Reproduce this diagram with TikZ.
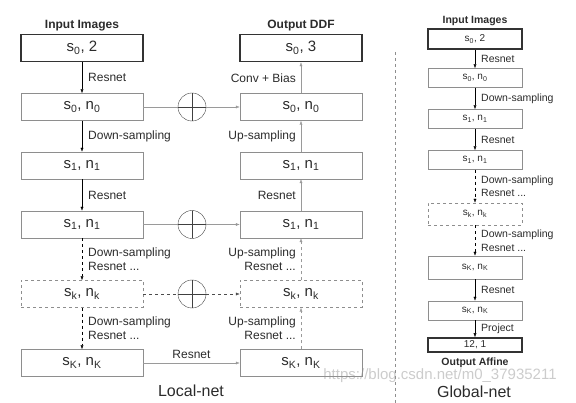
\documentclass[tikz,border=0pt]{standalone}
\usepackage{fontspec}
\setmainfont{Liberation Sans}
\usetikzlibrary{arrows.meta,positioning}
\definecolor{boxgray}{HTML}{8E8E8E}
\definecolor{linegray}{HTML}{9A9A9A}
\definecolor{textdark}{HTML}{2B2B2B}
\newcommand{\sub}[1]{\textsubscript{#1}}

\begin{document}
\begin{tikzpicture}[x=1pt,y=-1pt,>={Latex[length=4pt,width=3pt]},
  lbox/.style={draw=boxgray,minimum width=122pt,minimum height=27pt,inner sep=0pt,text=textdark,font=\fontsize{15}{15}\selectfont},
  gbox/.style={draw=boxgray,minimum width=94pt,minimum height=19pt,inner sep=0pt,text=textdark,font=\fontsize{10}{10}\selectfont},
  topbox/.style={draw=black!80,line width=1.5pt},
  dbox/.style={dashed,draw=boxgray},
  lab/.style={text=textdark,inner sep=0pt,font=\fontsize{12}{14}\selectfont},
  glab/.style={text=textdark,inner sep=0pt,font=\fontsize{10.5}{13.5}\selectfont},
  title/.style={text=textdark,inner sep=0pt,font=\bfseries\fontsize{12}{12}\selectfont},
  plus/.style={circle,draw=black!75,minimum size=28pt,inner sep=0pt,
    path picture={\draw[black!75] (path picture bounding box.north) -- (path picture bounding box.south)
      (path picture bounding box.west) -- (path picture bounding box.east);}}]
\useasboundingbox (0,0) rectangle (576,403);

% watermark
\node[text=black!20,font=\fontsize{15}{15}\selectfont] (wm) at (440,376) {https://blog.csdn.net/m0\_37935211};

% local-net, encoder
\node[lbox,topbox] (l1) at (82,48) {s\sub{0}, 2};
\node[lbox] (l2) at (82,107) {s\sub{0}, n\sub{0}};
\node[lbox] (l3) at (82,165.5) {s\sub{1}, n\sub{1}};
\node[lbox] (l4) at (82,224.5) {s\sub{1}, n\sub{1}};
\node[lbox,dbox] (l5) at (82,294) {s\sub{k}, n\sub{k}};
\node[lbox] (l6) at (82,363) {s\sub{K}, n\sub{K}};
\node[title,above=3pt of l1] (inl) {Input Images};

% local-net, decoder
\node[lbox,topbox] (r1) at (301,48) {s\sub{0}, 3};
\node[lbox] (r2) at (301,107) {s\sub{0}, n\sub{0}};
\node[lbox] (r3) at (301,165.5) {s\sub{1}, n\sub{1}};
\node[lbox] (r4) at (301,224.5) {s\sub{1}, n\sub{1}};
\node[lbox,dbox] (r5) at (301,294) {s\sub{k}, n\sub{k}};
\node[lbox] (r6) at (301,363) {s\sub{K}, n\sub{K}};
\node[title,above=3pt of r1] (outl) {Output DDF};

\node[plus] (p2) at (192,107) {};
\node[plus] (p4) at (192,224.5) {};
\node[plus] (p5) at (192,294) {};

\draw[->] (l1) -- node[lab,right=6pt]{Resnet} (l2);
\draw[->] (l2) -- node[lab,right=6pt]{Down-sampling} (l3);
\draw[->] (l3) -- node[lab,right=6pt]{Resnet} (l4);
\draw[->,dashed] (l4) -- node[lab,right=6pt,align=left]{Down-sampling\\Resnet ...} (l5);
\draw[->,dashed] (l5) -- node[lab,right=6pt,align=left]{Down-sampling\\Resnet ...} (l6);

\draw[->,linegray] (r2) -- node[lab,left=5pt]{Conv + Bias} (r1);
\draw[->,linegray] (r3) -- node[lab,left=5pt]{Up-sampling} (r2);
\draw[->,linegray] (r4) -- node[lab,left=5pt]{Resnet} (r3);
\draw[->,linegray,dashed] (r5) -- node[lab,left=5pt,align=right]{Up-sampling\\Resnet ...} (r4);
\draw[->,linegray,dashed] (r6) -- node[lab,left=5pt,align=right]{Up-sampling\\Resnet ...} (r5);

\draw[linegray] (l2) -- (p2);
\draw[->,linegray] (p2) -- (r2);
\draw[linegray] (l4) -- (p4);
\draw[->,linegray] (p4) -- (r4);
\draw[black!70,dashed] (l5) -- (p5);
\draw[->,black!70,dashed] (p5) -- (r5);
\draw[->,linegray] (l6) -- node[lab,above=4pt]{Resnet} (r6);

\node[text=textdark,font=\fontsize{16}{16}\selectfont] (lnet) at (191,391) {Local-net};

% separator
\draw[dashed,boxgray] (395,52) -- (395,403);

% global-net
\node[gbox,topbox,minimum height=20pt] (g1) at (475,39) {s\sub{0}, 2};
\node[gbox] (g2) at (475,78) {s\sub{0}, n\sub{0}};
\node[gbox] (g3) at (475,119) {s\sub{1}, n\sub{1}};
\node[gbox] (g4) at (475,160) {s\sub{1}, n\sub{1}};
\node[gbox,dbox,minimum height=22pt] (g5) at (475,214) {s\sub{k}, n\sub{k}};
\node[gbox,minimum height=23pt] (g6) at (475,267.5) {s\sub{K}, n\sub{K}};
\node[gbox] (g7) at (475,310.5) {s\sub{K}, n\sub{K}};
\node[gbox,topbox,minimum height=14pt] (g8) at (475,345) {12, 1};
\node[title,font=\bfseries\fontsize{10.5}{10.5}\selectfont,above=2pt of g1] (ing) {Input Images};
\node[title,font=\bfseries\fontsize{10.5}{10.5}\selectfont,below=5pt of g8] (outg) {Output Affine};

\draw[->] (g1) -- node[glab,right=6pt]{Resnet} (g2);
\draw[->] (g2) -- node[glab,right=6pt]{Down-sampling} (g3);
\draw[->] (g3) -- node[glab,right=6pt]{Resnet} (g4);
\draw[->,dashed] (g4) -- node[glab,right=6pt,align=left]{Down-sampling\\Resnet ...} (g5);
\draw[->,dashed] (g5) -- node[glab,right=6pt,align=left]{Down-sampling\\Resnet ...} (g6);
\draw[->] (g6) -- node[glab,right=6pt]{Resnet} (g7);
\draw[->] (g7) -- node[glab,right=6pt]{Project} (g8);

\node[text=textdark,font=\fontsize{16}{16}\selectfont] (gnet) at (474,392) {Global-net};
\end{tikzpicture}
\end{document}
